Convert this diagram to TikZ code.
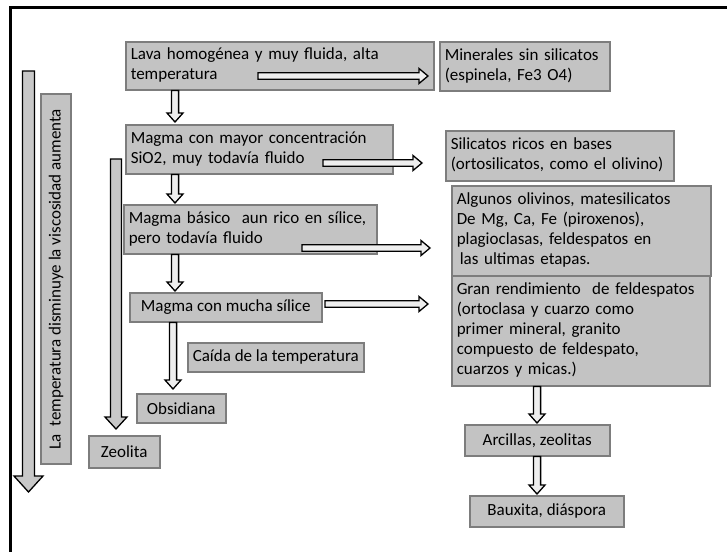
\documentclass[tikz,border=0pt]{standalone}
\usepackage{fontspec}
\setmainfont{Carlito}
\usetikzlibrary{calc}
\definecolor{boxfill}{RGB}{195,195,195}
\definecolor{boxline}{RGB}{125,125,125}
\definecolor{arrfill}{RGB}{238,238,238}
\definecolor{bigfill}{RGB}{200,200,200}
% down-pointing block arrow: #1 style, #2 start, #3 tip, #4 half shaft, #5 half head, #6 head length
\newcommand\DArr[6]{\filldraw[#1] let \p1=#2, \p2=#3 in
  (\x1-#4,\y1) -- (\x1-#4,\y2+#6) -- (\x1-#5,\y2+#6) -- (\x1,\y2) --
  (\x1+#5,\y2+#6) -- (\x1+#4,\y2+#6) -- (\x1+#4,\y1) -- cycle;}
% right-pointing block arrow
\newcommand\RArr[6]{\filldraw[#1] let \p1=#2, \p2=#3 in
  (\x1,\y1-#4) -- (\x2-#6,\y1-#4) -- (\x2-#6,\y1-#5) -- (\x2,\y1) --
  (\x2-#6,\y1+#5) -- (\x2-#6,\y1+#4) -- (\x1,\y1+#4) -- cycle;}
\begin{document}
\begin{tikzpicture}[x=1pt,y=-1pt,
  box/.style={draw=boxline, line width=1.5pt, fill=boxfill, anchor=north west,
    inner xsep=5pt, inner ysep=1pt, font=\fontsize{17}{20}\selectfont, align=left},
  cbox/.style={box, align=center},
  smallarr/.style={draw=black, line width=1.3pt, fill=arrfill, line join=miter},
  bigarr/.style={draw=black, line width=1.3pt, fill=bigfill, line join=miter},
  frame/.style={draw=black, line width=3pt, line join=miter}]
\useasboundingbox (0,0) rectangle (727,552);
\fill[white] (0,0) rectangle (727,552);
\draw[frame] (727,7.7) -- (10,7.7) -- (10,552);

% left column
\node[box, minimum width=308pt, minimum height=48pt, text width=298pt] (lava) at (125,41)
  {\begin{tabular}{@{}l@{}}Lava homogénea y muy fluida, alta\\temperatura\end{tabular}};
\node[box, minimum width=267pt, minimum height=49pt, text width=257pt] (magma2) at (125,124)
  {\begin{tabular}{@{}l@{}}Magma con mayor concentración\\SiO2, muy todavía fluido\end{tabular}};
\node[box, minimum width=253pt, minimum height=49pt, text width=243pt] (magma3) at (123,204)
  {\begin{tabular}{@{}l@{}}Magma básico~ aun rico en sílice,\\pero todavía fluido\end{tabular}};
\node[cbox, minimum width=192pt, minimum height=29pt] (magma4) at (129,292) {Magma con mucha sílice};
\node[cbox, minimum width=170pt, minimum height=29pt] (caida) at (187,342) {Caída de la temperatura};
\node[cbox, minimum width=89pt, minimum height=29pt] (obsidiana) at (136,393) {Obsidiana};
\node[cbox, minimum width=71pt, minimum height=32pt] (zeolita) at (88,435) {Zeolita};
\node[cbox, rotate=90, anchor=center, minimum width=370pt, minimum height=30pt] (vtext) at (56,279)
  {La~ temperatura disminuye la viscosidad aumenta};

% right column
\node[box, minimum width=170pt, minimum height=49pt, text width=160pt] (minerales) at (439,41)
  {\begin{tabular}{@{}l@{}}Minerales sin silicatos\\(espinela, Fe3 O4)\end{tabular}};
\node[box, minimum width=228pt, minimum height=50pt, text width=218pt] (silicatos) at (445,130)
  {\begin{tabular}{@{}l@{}}Silicatos ricos en bases\\(ortosilicatos, como el olivino)\end{tabular}};
\node[box, minimum width=259pt, minimum height=90pt, text width=249pt] (algunos) at (451,185)
  {\begin{tabular}{@{}l@{}}Algunos olivinos, matesilicatos\\De Mg, Ca, Fe (piroxenos),\\plagioclasas, feldespatos en\\\hspace{3pt}las ultimas etapas.\end{tabular}};
\node[box, minimum width=258pt, minimum height=110pt, text width=248pt] (gran) at (451,275)
  {\begin{tabular}{@{}l@{}}Gran rendimiento~ de feldespatos\\(ortoclasa y cuarzo como\\primer mineral, granito\\compuesto de feldespato,\\cuarzos y micas.)\end{tabular}};
\node[cbox, minimum width=145pt, minimum height=31pt] (arcillas) at (464,424) {Arcillas, zeolitas};
\node[cbox, minimum width=154pt, minimum height=31pt] (bauxita) at (469,495) {Bauxita, diáspora};

% guide coordinates
\coordinate (xa) at (175,0);
\coordinate (xb) at (173,0);
\coordinate (xc) at (537,0);
\coordinate (L1s) at (28.5,71);
\coordinate (L1e) at (28.5,492);
\coordinate (L2s) at (116,159);
\coordinate (h1s) at (258,76);
\coordinate (h2s) at (323,163);
\coordinate (h3s) at (302,248);
\coordinate (h4s) at (325,304);

% big arrows
\DArr{bigarr}{(L1s)}{(L1e)}{6pt}{14.5pt}{16pt}
\DArr{bigarr}{(L2s)}{($(zeolita.north -| L2s)+(0,-6)$)}{5.5pt}{11pt}{12pt}

% vertical arrows
\DArr{smallarr}{(lava.south -| xa)}{($(magma2.north -| xa)+(0,-2)$)}{3.6pt}{8pt}{9pt}
\DArr{smallarr}{(magma2.south -| xa)}{($(magma3.north -| xa)+(0,-1)$)}{3.6pt}{8pt}{9pt}
\DArr{smallarr}{(magma3.south -| xa)}{($(magma4.north -| xa)+(0,-1)$)}{3.6pt}{8pt}{9pt}
\DArr{smallarr}{(magma4.south -| xb)}{($(obsidiana.north -| xb)+(0,-4)$)}{3.6pt}{8pt}{9pt}
\DArr{smallarr}{(gran.south -| xc)}{($(arcillas.north -| xc)+(0,-1)$)}{3.6pt}{8pt}{9pt}
\DArr{smallarr}{(arcillas.south -| xc)}{($(bauxita.north -| xc)+(0,-1)$)}{3.6pt}{8pt}{9pt}

% horizontal arrows
\RArr{smallarr}{(h1s)}{($(minerales.west |- h1s)+(-11,0)$)}{3.2pt}{7.5pt}{9pt}
\RArr{smallarr}{(h2s)}{($(silicatos.west |- h2s)+(-23,0)$)}{3.2pt}{7.5pt}{9pt}
\RArr{smallarr}{(h3s)}{($(algunos.west |- h3s)+(-21,0)$)}{3.2pt}{7.5pt}{9pt}
\RArr{smallarr}{(h4s)}{($(gran.west |- h4s)+(-23,0)$)}{3.2pt}{7.5pt}{9pt}
\end{tikzpicture}
\end{document}
